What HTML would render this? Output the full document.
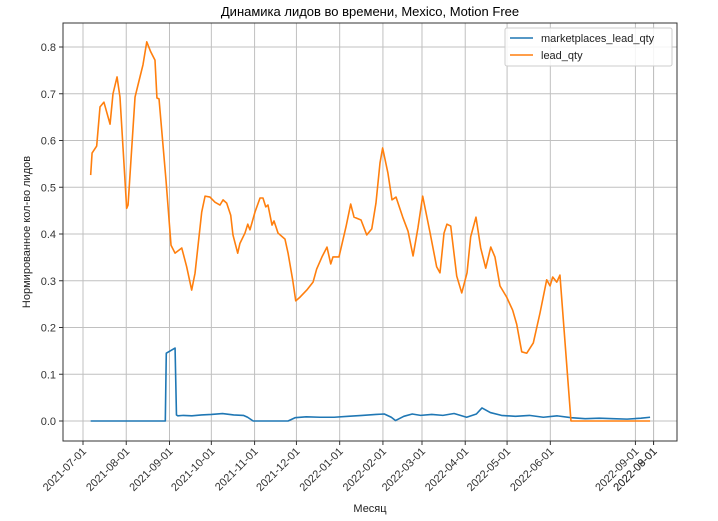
<!DOCTYPE html>
<html><head><meta charset="utf-8"><style>
body{margin:0;background:#fff;}
svg{display:block;font-family:"Liberation Sans","DejaVu Sans",sans-serif;}
</style></head><body>
<svg id="chart" width="718" height="521">
<text x="370" y="16" text-anchor="middle" font-size="13" fill="#000">Динамика лидов во времени, Mexico, Motion Free</text>
<g id="grid"></g>
<g id="axes"></g>
<g id="series"></g>
<rect x="63" y="23" width="614" height="418" fill="none" stroke="#333" stroke-width="1"/>
<text x="370" y="512" text-anchor="middle" font-size="11" fill="#222">Месяц</text>
<text transform="translate(30,232) rotate(-90)" text-anchor="middle" font-size="11" fill="#222">Нормированное кол-во лидов</text>
<g>
<rect x="505" y="28" width="167" height="38" rx="2" fill="#fff" fill-opacity="0.85" stroke="#ccc"/>
<line x1="510" y1="38" x2="533" y2="38" stroke="#1f77b4" stroke-width="1.6"/>
<text x="541" y="42" font-size="11" fill="#222">marketplaces_lead_qty</text>
<line x1="510" y1="55" x2="533" y2="55" stroke="#ff7f0e" stroke-width="1.6"/>
<text x="541" y="59" font-size="11" fill="#222">lead_qty</text>
</g>
</svg>
<script>
const xTickDays=[0,31,62,92,123,153,184,215,243,274,304,335,396,409,409];
const xTickLabels=["2021-07-01","2021-08-01","2021-09-01","2021-10-01","2021-11-01","2021-12-01","2022-01-01","2022-02-01","2022-03-01","2022-04-01","2022-05-01","2022-06-01","2022-09-01","2022-08-01","2022-09-01"];
const yTicks=[0,0.1,0.2,0.3,0.4,0.5,0.6,0.7,0.8];
const leadDays=[5.5,6.5,9.8,12.2,15,19.4,21.5,24.4,26.5,31.3,32.3,37.3,40.1,43,45.7,48.5,51.6,53,54.5,59.5,63.1,66,70.8,74.3,77.9,80.3,85.1,87.5,91,94.6,98.2,100.4,103,105.9,107.5,110.9,112.5,116.1,118.1,119.7,123.3,126.9,129,131,132.6,135.5,136.9,139.8,144.8,147,150.3,152.5,155.6,160.4,164.9,167.5,171.3,174.9,177.6,179.2,183.5,188.5,191.9,194.3,199.3,203.4,207,210,212.9,214.8,218.6,221.5,224.4,229.2,233,236.6,240.1,243.5,248.7,253.5,255.9,258.8,260.9,263.6,267.9,271.5,275.3,277.9,281.7,285.1,288.7,292.3,295.3,298.9,303.7,308,310.9,314.5,318.1,322.8,327.6,332.4,334.8,336.7,339.6,341.9,349.8,406.5];
const leadValues=[0.526,0.573,0.588,0.672,0.682,0.635,0.70,0.736,0.693,0.455,0.462,0.693,0.727,0.762,0.811,0.79,0.772,0.691,0.689,0.515,0.376,0.359,0.37,0.33,0.28,0.316,0.447,0.481,0.479,0.468,0.462,0.473,0.466,0.44,0.398,0.359,0.38,0.402,0.421,0.409,0.447,0.477,0.477,0.458,0.462,0.419,0.428,0.402,0.389,0.359,0.302,0.257,0.265,0.28,0.297,0.325,0.351,0.372,0.336,0.351,0.351,0.415,0.464,0.436,0.43,0.398,0.411,0.466,0.552,0.584,0.53,0.473,0.479,0.436,0.406,0.353,0.413,0.481,0.404,0.33,0.317,0.402,0.421,0.417,0.31,0.274,0.317,0.394,0.436,0.37,0.327,0.372,0.351,0.289,0.265,0.237,0.207,0.148,0.145,0.167,0.231,0.302,0.289,0.308,0.297,0.312,0,0];
const mpDays=[5.5,59,59.7,66,67,68,72,78,85,92,100,108,115,118,122,147,152,160,170,180,190,200,210,216,221,224,230,236,242,250,258,266,275,282,286,292,300,310,320,330,340,350,360,370,380,390,400,406.5];
const mpValues=[0,0,0.145,0.156,0.013,0.011,0.012,0.011,0.013,0.014,0.016,0.013,0.012,0.008,0,0,0.007,0.009,0.008,0.008,0.01,0.012,0.014,0.015,0.008,0.001,0.01,0.015,0.012,0.014,0.012,0.016,0.008,0.015,0.028,0.018,0.012,0.01,0.012,0.008,0.011,0.007,0.005,0.006,0.005,0.004,0.006,0.008];
const NS="http://www.w3.org/2000/svg";
const X0=83,KX=1.395,Y0=421,KY=467.5;
function xs(d){return X0+d*KX;}
function ys(v){return Y0-v*KY;}
const grid=document.getElementById('grid'),axes=document.getElementById('axes'),series=document.getElementById('series');
function mk(tag,attrs,parent){const e=document.createElementNS(NS,tag);for(const k in attrs)e.setAttribute(k,attrs[k]);parent.appendChild(e);return e;}
yTicks.forEach(v=>{
  const g=mk('line',{x1:63,x2:677,y1:ys(v),y2:ys(v),stroke:'#c0c0c0','stroke-width':1},grid);
  
  
  const t=mk('line',{x1:59,x2:63,y1:ys(v),y2:ys(v),stroke:'#333'},axes);
  
  
  const l=mk('text',{x:56,y:ys(v)+4,'text-anchor':'end','font-size':11,fill:'#333'},axes);
  l.textContent=v.toFixed(1);
  
  
});
xTickDays.forEach((d,i)=>{
  const x=xs(d);
  const g=mk('line',{x1:x,x2:x,y1:23,y2:441,stroke:'#c0c0c0','stroke-width':1},grid);
  
  
  const t=mk('line',{x1:x,x2:x,y1:441,y2:445,stroke:'#333'},axes);
  
  
  const l=mk('text',{transform:`translate(${x+4},${452}) rotate(-45)`,'text-anchor':'end','font-size':11,fill:'#333'},axes);
  l.textContent=xTickLabels[i];
  
  
});
function line(days,vals,color,name){
  const p=mk('polyline',{points:days.map((d,i)=>xs(d)+','+ys(vals[i])).join(' '),fill:'none',stroke:color,'stroke-width':1.6,'stroke-linejoin':'round'},series);
  
  
}
line(mpDays,mpValues,'#1f77b4','marketplaces-lead-qty-line');
line(leadDays,leadValues,'#ff7f0e','lead-qty-line');
</script>
</body></html>
